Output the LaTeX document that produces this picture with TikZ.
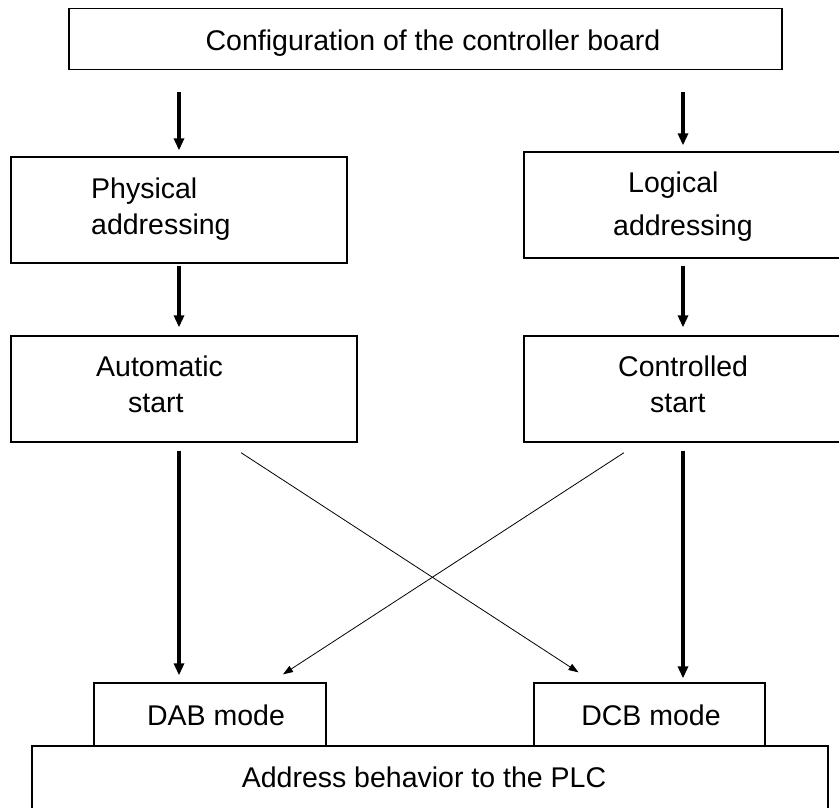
\documentclass[tikz,border=0pt]{standalone}
\usepackage{fontspec}
\setmainfont{Liberation Sans}
\usetikzlibrary{arrows.meta,positioning}

\begin{document}
\begin{tikzpicture}[x=1pt,y=1pt]
\tikzstyle{every node}+=[inner sep=0pt]
\tikzstyle{box}=[draw, line width=1.3pt, rectangle]
\tikzstyle{lbl}=[font=\fontsize{28.5}{36}\selectfont, align=left]
\tikzstyle{thickarr}=[line width=3.4pt, -{Triangle[length=12pt,width=10pt]}]
\tikzstyle{thinarr}=[line width=0.8pt, -{Triangle[length=10pt,width=7pt]}]
\useasboundingbox (0,0) rectangle (839,-807);
\node[box, minimum width=713, minimum height=61] (config) at (425.5,-39) {};
\node[lbl, anchor=base] (configT) at (433,-50) {Configuration of the controller board};
\node[box, minimum width=336, minimum height=106] (phys) at (179,-210) {};
\node[lbl, anchor=west] (physT) at (91,-209.6) {Physical\\addressing};
\node[box, minimum width=318, minimum height=106] (logic) at (683,-205) {};
\node[lbl, anchor=west] (logicT) at (613,-206.3) {\hspace*{15pt}Logical\\[7pt]addressing};
\node[box, minimum width=346, minimum height=106] (auto) at (184,-389) {};
\node[lbl, anchor=west] (autoT) at (96,-384.8) {Automatic\\\hspace*{32pt}start};
\node[box, minimum width=318, minimum height=106] (ctrl) at (683,-389) {};
\node[lbl, anchor=west] (ctrlT) at (618,-384.6) {Controlled\\\hspace*{32pt}start};
\node[box, minimum width=232, minimum height=63] (dab) at (210,-714.5) {};
\node[lbl, anchor=base] (dabT) at (216,-725) {DAB mode};
\node[box, minimum width=231, minimum height=63] (dcb) at (649.5,-714.5) {};
\node[lbl, anchor=base] (dcbT) at (651,-725) {DCB mode};
\node[box, minimum width=796, minimum height=70] (plc) at (430,-781) {};
\node[lbl, anchor=base] (plcT) at (424,-787) {Address behavior to the PLC};
\draw[thickarr] ([yshift=-22pt]config.south -| phys.north) -- ([yshift=6pt]phys.north);
\draw[thickarr] ([yshift=-22pt]config.south -| logic.north) -- ([yshift=6pt]logic.north);
\draw[thickarr] ([yshift=-2pt]phys.south) -- ([yshift=8pt]phys.south |- auto.north);
\draw[thickarr] ([yshift=-7pt]logic.south) -- ([yshift=8pt]ctrl.north);
\draw[thickarr] ([yshift=-8pt]auto.south -| phys.south) -- ([yshift=7pt]dab.north -| phys.south);
\draw[thickarr] ([yshift=-8pt]ctrl.south) -- ([yshift=4pt]dcb.north -| ctrl.south);
\draw[thinarr] ([xshift=57pt,yshift=-10pt]auto.south) -- ([xshift=-71pt,yshift=10pt]dcb.north);
\draw[thinarr] ([xshift=-59pt,yshift=-10pt]ctrl.south) -- ([xshift=73pt,yshift=8pt]dab.north);
\end{tikzpicture}
\end{document}
